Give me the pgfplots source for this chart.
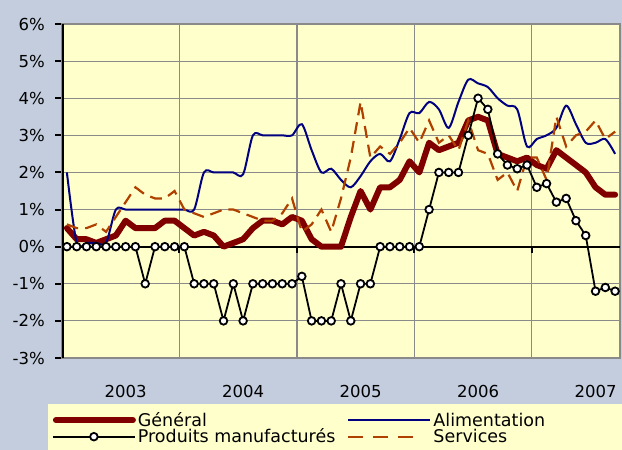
\documentclass[border=0pt]{standalone}
\usepackage{fontspec}
\setmainfont{DejaVu Sans}
\usepackage{pgfplots}
\usepackage{pgfplotstable}
\pgfplotsset{compat=1.18}
\definecolor{outerbg}{RGB}{195,205,222}
\definecolor{plotbg}{RGB}{255,255,204}
\definecolor{gridgray}{RGB}{138,138,138}
\definecolor{gencol}{RGB}{128,0,0}
\definecolor{alimcol}{RGB}{0,0,128}
\definecolor{servcol}{RGB}{176,64,0}

\pgfplotsset{
  genimg/.style={legend image code/.code={\draw[##1] (3pt,0pt) -- (80pt,0pt);}},
  alimimg/.style={legend image code/.code={\draw[##1] (0pt,0pt) -- (82pt,0pt);}},
  prodimg/.style={legend image code/.code={\draw[mark repeat=2,mark phase=2,##1] plot coordinates {(0pt,0pt) (41pt,0pt) (82pt,0pt)};}},
  servimg/.style={legend image code/.code={\draw[##1] (0pt,0pt) -- (75pt,0pt);}},
}

\pgfplotstableread{
i gen alim prod serv
0 0.5 2.0 0 0.6
1 0.2 0.1 0 0.5
2 0.2 0.1 0 0.5
3 0.1 0.1 0 0.6
4 0.2 0.1 0 0.4
5 0.3 1.0 0 0.8
6 0.7 1.0 0 1.2
7 0.5 1.0 0 1.6
8 0.5 1.0 -1 1.4
9 0.5 1.0 0 1.3
10 0.7 1.0 0 1.3
11 0.7 1.0 0 1.5
12 0.5 1.0 0 1.0
13 0.3 1.0 -1 0.9
14 0.4 2.0 -1 0.8
15 0.3 2.0 -1 0.9
16 0.0 2.0 -2 1.0
17 0.1 2.0 -1 1.0
18 0.2 1.95 -2 0.9
19 0.5 3.0 -1 0.8
20 0.7 3.0 -1 0.7
21 0.7 3.0 -1 0.7
22 0.6 3.0 -1 0.9
23 0.8 3.0 -1 1.3
24 0.7 3.3 -0.8 0.4
25 0.2 2.6 -2 0.6
26 0.0 2.0 -2 1.0
27 0.0 2.1 -2 0.4
28 0.0 1.8 -1 1.3
29 0.8 1.6 -2 2.4
30 1.5 1.9 -1 3.9
31 1.0 2.3 -1 2.4
32 1.6 2.5 0 2.7
33 1.6 2.3 0 2.5
34 1.8 2.9 0 2.8
35 2.3 3.6 0 3.2
36 2.0 3.6 0 2.8
37 2.8 3.9 1 3.4
38 2.6 3.7 2 2.8
39 2.7 3.2 2 3.0
40 2.8 3.9 2 2.6
41 3.4 4.5 3 3.4
42 3.5 4.4 4 2.6
43 3.4 4.3 3.7 2.5
44 2.5 4.0 2.5 1.8
45 2.4 3.8 2.2 2.0
46 2.3 3.7 2.1 1.5
47 2.4 2.7 2.2 2.4
48 2.2 2.9 1.6 2.4
49 2.1 3.0 1.7 1.8
50 2.6 3.2 1.2 3.5
51 2.4 3.8 1.3 2.7
52 2.2 3.3 0.7 3.0
53 2.0 2.8 0.3 3.1
54 1.6 2.8 -1.2 3.4
55 1.4 2.9 -1.1 2.9
56 1.4 2.5 -1.2 3.1
}\data

\begin{document}
\begin{tikzpicture}
\fill[outerbg] (0,0) rectangle (622pt,450pt);
\fill[plotbg] (48pt,0) rectangle (622pt,46pt);
\path[use as bounding box] (0,0) rectangle (622pt,450pt);
\begin{axis}[
  at={(62pt,92pt)}, anchor=south west,
  scale only axis, width=558pt, height=334pt,
  xmin=-0.5, xmax=56.5, ymin=-3, ymax=6,
  axis background/.style={fill=plotbg},
  axis line style={draw=gridgray, line width=1.5pt},
  xtick={11.5,23.5,35.5,47.5}, xticklabels={},
  xtick style={draw=none},
  extra x ticks={6,18,30,42,54},
  extra x tick labels={2003,2004,2005,2006,2007},
  extra x tick style={grid=none, major tick length=0pt, tick style={draw=none},
    tick label style={inner sep=0pt, yshift=-27pt}},
  ytick={-3,-2,...,6},
  ytick pos=left,
  ytick style={black, line width=2pt},
  tick align=outside, major tick length=7pt,
  yticklabel={\pgfmathprintnumber{\tick}\%},
  yticklabel style={inner sep=0pt, xshift=-10pt},
  /pgf/number format/assume math mode=true,
  tick label style={font=\fontsize{16.5}{19}\selectfont},
  xmajorgrids, ymajorgrids,
  grid style={gridgray, line width=1.2pt},
  extra y ticks={0}, extra y tick labels={},
  extra y tick style={grid style={black, line width=2.2pt}, tick style={draw=none}},
  clip=true,
  legend cell align=left,
  legend columns=2,
  legend style={at={(axis description cs:-0.0179,-0.163)}, anchor=north west,
    draw=none, fill=none, inner sep=0pt, outer sep=0pt, row sep=1pt,
    font=\fontsize{17.5}{19}\selectfont,
    nodes={inner xsep=2pt, inner ysep=0pt},
    /tikz/every even column/.append style={column sep=10pt}},
]
\addlegendimage{gencol, line width=6pt, line cap=round, genimg}
\addlegendentry{Général}
\addlegendimage{alimcol, line width=2pt, alimimg}
\addlegendentry{Alimentation}
\addlegendimage{black, line width=1.8pt, mark=*, mark size=3.8pt,
  mark options={fill=white, draw=black, line width=1.8pt}, prodimg}
\addlegendentry{Produits manufacturés}
\addlegendimage{servcol, line width=2.2pt, dash pattern=on 15pt off 10pt, servimg}
\addlegendentry{Services}

\addplot[forget plot, gencol, line width=6pt, line join=round, line cap=round]
  table[x=i, y=gen] {\data};
\addplot[forget plot, alimcol, line width=2pt, smooth, tension=0.5]
  table[x=i, y=alim] {\data};
\addplot[forget plot, servcol, line width=2.2pt, dash pattern=on 12pt off 7pt]
  table[x=i, y=serv] {\data};
\addplot[forget plot, black, line width=1.8pt, mark=*, mark size=3.8pt,
  mark options={fill=white, draw=black, line width=1.8pt}]
  table[x=i, y=prod] {\data};

\draw[black, line width=2pt] (axis cs:11.5,0) -- ++(0pt,-6pt);
\draw[black, line width=2pt] (axis cs:23.5,0) -- ++(0pt,-6pt);
\draw[black, line width=2pt] (axis cs:35.5,0) -- ++(0pt,-6pt);
\draw[black, line width=2pt] (axis cs:47.5,0) -- ++(0pt,-6pt);
\draw[black, line width=3pt] (rel axis cs:0,0) -- (rel axis cs:0,1);
\end{axis}
\end{tikzpicture}
\end{document}
